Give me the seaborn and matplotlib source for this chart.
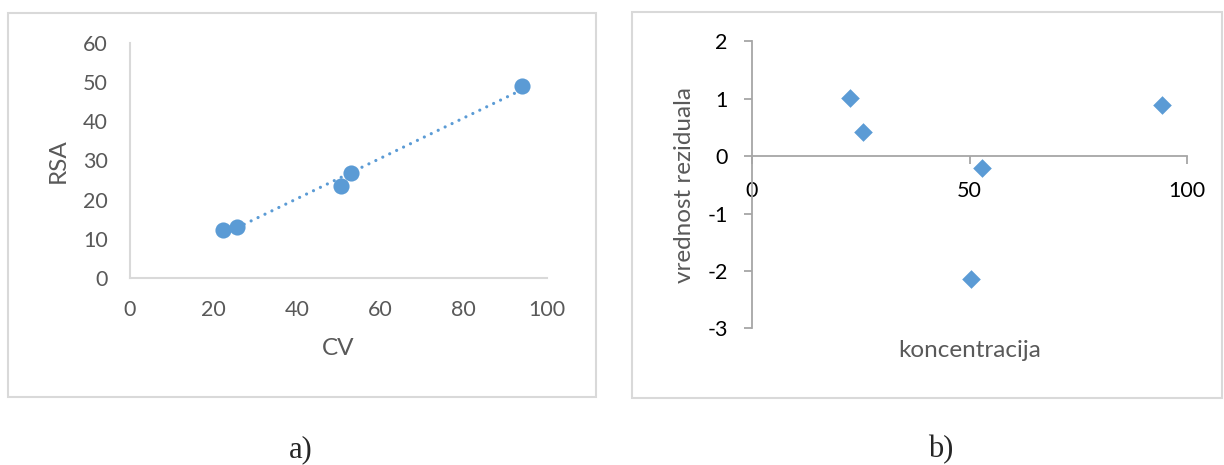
import numpy as np
import pandas as pd
import matplotlib.pyplot as plt
import seaborn as sns
from matplotlib.patches import Rectangle

# podaci ocitani sa slike
cv = [22.4, 25.6, 50.5, 52.9, 94.0]
rsa = [12.3, 13.1, 23.4, 26.7, 49.0]

koncentracija = [22.5, 25.4, 50.4, 52.9, 94.2]
rezidual = [1.01, 0.42, -2.14, -0.20, 0.90]

plava = "#5B9BD5"
siva_tekst = "#595959"

sns.set_style("white")
plt.rcParams["font.family"] = ["Lato", "DejaVu Sans"]
plt.rcParams["axes.unicode_minus"] = False

fig = plt.figure(figsize=(12.24, 4.65), dpi=100)

# okviri oko grafika
fig.add_artist(Rectangle((0.0065, 0.146), 0.4805, 0.826, transform=fig.transFigure,
                         fill=False, ec="#D9D9D9", lw=1.5))
fig.add_artist(Rectangle((0.516, 0.144), 0.482, 0.830, transform=fig.transFigure,
                         fill=False, ec="#D9D9D9", lw=1.5))

# ==========================================================
# a) RSA vs CV sa linijom trenda
# ==========================================================
ax1 = fig.add_axes([0.1062, 0.4022, 0.3407, 0.5054])
df1 = pd.DataFrame({"CV": cv, "RSA": rsa})

sns.regplot(data=df1, x="CV", y="RSA", ax=ax1, ci=None,
            scatter_kws={"s": 135, "color": plava, "alpha": 1, "zorder": 3, "linewidths": 0},
            line_kws={"color": plava, "lw": 2.3, "linestyle": (0, (0.01, 2.4)),
                      "dash_capstyle": "round", "zorder": 2})

ax1.set_xlim(0, 100)
ax1.set_ylim(0, 60)
ax1.set_xticks([0, 20, 40, 60, 80, 100])
ax1.set_yticks([0, 10, 20, 30, 40, 50, 60])
for s in ["top", "right"]:
    ax1.spines[s].set_visible(False)
for s in ["left", "bottom"]:
    ax1.spines[s].set_color("#D9D9D9")
    ax1.spines[s].set_linewidth(1.5)
ax1.tick_params(length=0, labelsize=15.5, labelcolor=siva_tekst, pad=16)

ax1.set_xlabel("CV", fontsize=17.5, color=siva_tekst)
ax1.set_ylabel("RSA", fontsize=17.5, color=siva_tekst)
ax1.xaxis.set_label_coords(0.5, -0.298)
ax1.yaxis.set_label_coords(-0.173, 0.5)
ax1.xaxis.label.set_va("center")
ax1.yaxis.label.set_va("center")

# ==========================================================
# b) reziduali
# ==========================================================
ax2 = fig.add_axes([0.6144, 0.2940, 0.3554, 0.6168])
df2 = pd.DataFrame({"koncentracija": koncentracija, "rezidual": rezidual})

sns.scatterplot(data=df2, x="koncentracija", y="rezidual", ax=ax2,
                marker="D", s=90, color=plava, linewidth=0, zorder=3)

ax2.set_xlim(0, 100)
ax2.set_ylim(-3, 2)
ax2.set_xticks([0, 50, 100])
ax2.set_yticks([-3, -2, -1, 0, 1, 2])
ax2.spines["bottom"].set_position(("data", 0))
for s in ["top", "right"]:
    ax2.spines[s].set_visible(False)
for s in ["left", "bottom"]:
    ax2.spines[s].set_color("#A6A6A6")
    ax2.spines[s].set_linewidth(1.3)
ax2.tick_params(direction="out", length=5.5, width=1.3, color="#A6A6A6",
                labelsize=15.5, labelcolor="black", pad=12)
ax2.tick_params(axis="x", bottom=True)
ax2.tick_params(axis="y", left=True)

ax2.set_xlabel("koncentracija", fontsize=17.5, color=siva_tekst)
ax2.set_ylabel("vrednost reziduala", fontsize=17.5, color=siva_tekst)
ax2.xaxis.set_label_coords(0.5, -0.0757)
ax2.yaxis.set_label_coords(-0.156, 0.5)
ax2.xaxis.label.set_va("center")
ax2.yaxis.label.set_va("center")

# oznake ispod grafika
fig.text(301 / 1224, 1 - 450 / 465, "a)", family="Liberation Serif", fontsize=22,
         ha="center", va="center")
fig.text(941 / 1224, 1 - 450 / 465, "b)", family="Liberation Serif", fontsize=22,
         ha="center", va="center")

plt.savefig("out.png", dpi=100)
